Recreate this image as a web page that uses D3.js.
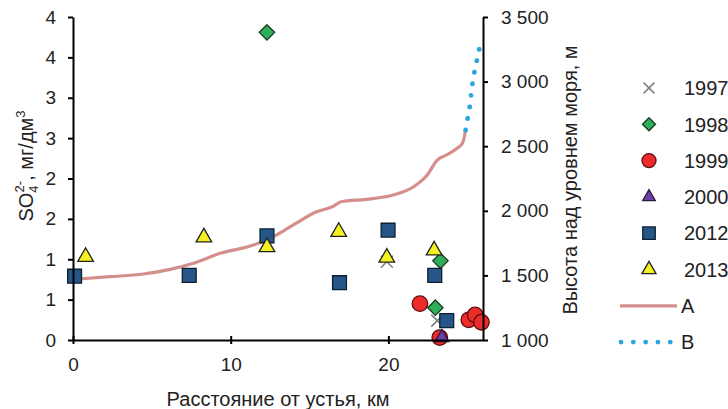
<!DOCTYPE html>
<html><head><meta charset="utf-8">
<script src="https://cdn.jsdelivr.net/npm/d3@7"></script>
<style>body{margin:0;background:#fff}svg{display:block;font-family:"Liberation Sans",Arial,sans-serif}</style>
</head><body><svg id="c" width="728" height="409"></svg>
<script>
// ---- data ----
const years = ["1997","1998","1999","2000","2012","2013"];
const x1997 = [19.9, 23.1];            const y1997 = [0.97, 0.24];
const x1998 = [12.3, 23.3, 22.98];     const y1998 = [3.81, 0.98, 0.40];
const x1999 = [22.0, 23.26, 25.1, 25.5, 25.9]; const y1999 = [0.45, 0.03, 0.25, 0.31, 0.22];
const x2000 = [23.4];                  const y2000 = [0.03];
const x2012 = [0.1, 7.37, 12.3, 16.9, 19.98, 22.94, 23.7]; const y2012 = [0.79, 0.80, 1.29, 0.71, 1.36, 0.80, 0.24];
const x2013 = [0.8, 8.3, 12.3, 16.85, 19.9, 22.9]; const y2013 = [1.03, 1.27, 1.15, 1.34, 1.02, 1.11];
const lineA_x = [0.13, 2.35, 4.46, 6.16, 7.64, 9.33, 11.45, 12.72, 14.1, 15.3, 16.5, 17.0, 18.6, 20.3, 21.6, 22.46, 23.1, 23.7, 24.36, 24.7, 24.9];
const lineA_h = [1470, 1490, 1511, 1547, 1594, 1671, 1735, 1800, 1900, 1985, 2035, 2070, 2089, 2122, 2186, 2277, 2393, 2432, 2484, 2522, 2625];
const lineB_x = [24.9, 25.06, 25.2, 25.27, 25.38, 25.52, 25.7, 25.84];
const lineB_h = [2625, 2741, 2837, 2930, 3020, 3115, 3211, 3301];
const xTicks = [0, 10, 20];
const leftTicks = [0, 0.5, 1, 1.5, 2, 2.5, 3, 3.5, 4];
const leftTickLabels = ["0","1","1","2","2","3","3","4","4"];
const rightTicks = [1000, 1500, 2000, 2500, 3000, 3500];
const rightTickLabels = ["1 000","1 500","2 000","2 500","3 000","3 500"];
const legendLabels = ["1997","1998","1999","2000","2012","2013","A","B"];

// ---- chart ----
const svg = d3.select("#c");
const L = 73, R = 483, T = 17, B = 340;
const x = d3.scaleLinear().domain([0, 26]).range([L, R]);
const yL = d3.scaleLinear().domain([0, 4]).range([B, T]);
const yR = d3.scaleLinear().domain([1000, 3500]).range([B, T]);

const styles = {
  "1997": {type:"x", fill:"none", stroke:"#7f7f7f", size:12},
  "1998": {type:d3.symbolDiamond2, fill:"#2eaf58", stroke:"#1a3a20", size:150},
  "1999": {type:d3.symbolCircle, fill:"#ee2b2b", stroke:"#5a1010", size:190},
  "2000": {type:d3.symbolTriangle2, fill:"#6b3fa3", stroke:"#2a1840", size:140},
  "2012": {type:d3.symbolSquare2, fill:"#265687", stroke:"#0d2030", size:245},
  "2013": {type:d3.symbolTriangle2, fill:"#f5f020", stroke:"#222", size:175}
};
const seriesData = {
  "1997": [x1997, y1997], "1998": [x1998, y1998], "1999": [x1999, y1999],
  "2000": [x2000, y2000], "2012": [x2012, y2012], "2013": [x2013, y2013]
};

function drawMarker(g, yr, cx, cy, scale) {
  const s = styles[yr];
  scale = scale || 1;
  if (s.type === "x") {
    const h = s.size / 2 * scale;
    g.append("path").attr("d", `M${cx-h},${cy-h}L${cx+h},${cy+h}M${cx-h},${cy+h}L${cx+h},${cy-h}`)
      .attr("stroke", s.stroke).attr("stroke-width", 1.5).attr("fill", "none");
  } else {
    g.append("path").attr("d", d3.symbol().type(s.type).size(s.size * scale * scale)())
      .attr("transform", `translate(${cx},${cy})`)
      .attr("fill", s.fill).attr("stroke", s.stroke).attr("stroke-width", 1.3);
  }
}

// lines
const lineGen = d3.line().x(d => x(d[0])).y(d => yR(d[1])).curve(d3.curveMonotoneX);
svg.append("path").datum(d3.zip(lineA_x, lineA_h)).attr("d", lineGen)
  .attr("fill", "none").attr("stroke", "#d48e8c").attr("stroke-width", 3.2).attr("stroke-linejoin", "round");
svg.append("path").datum(d3.zip(lineB_x, lineB_h)).attr("d", d3.line().x(d => x(d[0])).y(d => yR(d[1])).curve(d3.curveMonotoneY))
  .attr("fill", "none").attr("stroke", "#2aa7df").attr("stroke-width", 4.8)
  .attr("stroke-linecap", "round").attr("stroke-dasharray", "0.1 11.6");

// markers
const mg = svg.append("g");
years.forEach(yr => {
  const [xs, ys] = seriesData[yr];
  xs.forEach((v, i) => drawMarker(mg, yr, x(v), yL(ys[i])));
});

// axes
const FONT = "Liberation Sans, Arial, sans-serif";
const axStyle = g => {
  g.selectAll(".domain").attr("stroke", "#000").attr("stroke-width", 2);
  g.selectAll(".tick line").attr("stroke", "#000").attr("stroke-width", 2);
  g.selectAll(".tick text").attr("font-size", 19).attr("fill", "#222").attr("font-family", FONT);
};
const gx = svg.append("g").attr("transform", `translate(0,${B})`)
  .call(d3.axisBottom(x).tickValues(xTicks).tickSize(5).tickSizeOuter(0).tickPadding(13))
  .call(axStyle);
gx.selectAll(".tick line").attr("y1", -4).attr("y2", 4);
svg.append("g").attr("transform", `translate(${L},0)`)
  .call(d3.axisLeft(yL).tickValues(leftTicks).tickFormat((d, i) => leftTickLabels[i]).tickSize(5).tickSizeOuter(0).tickPadding(12))
  .call(axStyle);
svg.append("g").attr("transform", `translate(${R},0)`)
  .call(d3.axisRight(yR).tickValues(rightTicks).tickFormat((d, i) => rightTickLabels[i]).tickSize(5).tickSizeOuter(0).tickPadding(13))
  .call(axStyle);

// titles
svg.append("text").attr("x", 278).attr("y", 406).attr("text-anchor", "middle")
  .attr("font-size", 20).attr("fill", "#222").text("Расстояние от устья, км");
const lt = svg.append("text").attr("transform", "translate(33,166) rotate(-90)")
  .attr("text-anchor", "middle").attr("font-size", 20).attr("fill", "#222");
lt.append("tspan").text("SO");
lt.append("tspan").attr("font-size", 13).attr("dy", 5).text("4");
lt.append("tspan").attr("font-size", 13).attr("dx", -7).attr("dy", -14).text("2-");
lt.append("tspan").attr("dy", 9).text(", мг/дм");
lt.append("tspan").attr("font-size", 13).attr("dy", -8).text("3");
svg.append("text").attr("transform", "translate(577,180) rotate(-90)")
  .attr("text-anchor", "middle").attr("font-size", 20).attr("fill", "#222")
  .text("Высота над уровнем моря, м");

// legend
const lg = svg.append("g");
const legY0 = 88, legStep = 36.3;
legendLabels.forEach((lab, i) => {
  const cy = legY0 + i * legStep;
  if (i < 6) {
    drawMarker(lg, lab, 649, cy, lab === "1998" ? 0.85 : 0.9);
  } else if (lab === "A") {
    lg.append("line").attr("x1", 620).attr("x2", 677).attr("y1", cy).attr("y2", cy)
      .attr("stroke", "#d48e8c").attr("stroke-width", 3.2);
  } else {
    lg.append("line").attr("x1", 621).attr("x2", 672).attr("y1", cy).attr("y2", cy)
      .attr("stroke", "#2aa7df").attr("stroke-width", 4.8).attr("stroke-linecap", "round").attr("stroke-dasharray", "0.1 12.2");
  }
  lg.append("text").attr("x", i < 6 ? 684 : 681).attr("y", cy).attr("dy", "0.36em")
    .attr("font-size", 20).attr("fill", "#222").attr("font-family", FONT).text(lab);
});
</script></body></html>
